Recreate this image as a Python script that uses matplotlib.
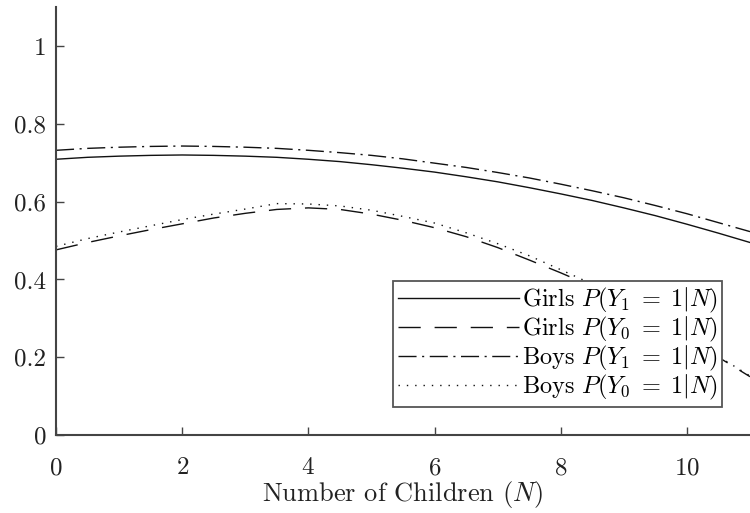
import matplotlib
matplotlib.use("Agg")
import matplotlib.pyplot as plt

plt.rcParams['font.family'] = 'serif'
plt.rcParams['font.serif'] = ['cmr10']
plt.rcParams['mathtext.fontset'] = 'cm'
plt.rcParams['axes.formatter.use_mathtext'] = True

# number of children
n_children = [0, 0.5, 1, 1.5, 2, 2.5, 3, 3.5, 4, 4.5, 5, 5.5,
              6, 6.5, 7, 7.5, 8, 8.5, 9, 9.5, 10, 10.5, 11]

girls_y1 = [0.709, 0.714, 0.717, 0.719, 0.720, 0.719, 0.717, 0.714, 0.709, 0.703, 0.695, 0.686,
            0.676, 0.664, 0.651, 0.636, 0.620, 0.603, 0.584, 0.564, 0.542, 0.519, 0.495]
girls_y0 = [0.476, 0.495, 0.512, 0.528, 0.543, 0.558, 0.570, 0.580, 0.584, 0.580, 0.568, 0.552,
            0.533, 0.510, 0.482, 0.450, 0.417, 0.382, 0.345, 0.302, 0.252, 0.200, 0.150]
boys_y1 = [0.732, 0.737, 0.740, 0.742, 0.743, 0.742, 0.740, 0.737, 0.732, 0.726, 0.719, 0.710,
           0.699, 0.688, 0.675, 0.661, 0.645, 0.628, 0.610, 0.590, 0.569, 0.546, 0.523]
boys_y0 = [0.485, 0.505, 0.522, 0.538, 0.554, 0.568, 0.581, 0.595, 0.594, 0.589, 0.578, 0.562,
           0.545, 0.520, 0.492, 0.461, 0.425, 0.388, 0.348, 0.304, 0.254, 0.202, 0.152]

x_ticks = [0, 2, 4, 6, 8, 10]
y_ticks = [0, 0.2, 0.4, 0.6, 0.8, 1]
y_tick_labels = ['0', '0.2', '0.4', '0.6', '0.8', '1']

fig = plt.figure(figsize=(7.5, 5.13), dpi=100)
ax = fig.add_axes([0.0747, 0.152, 0.9253, 0.834])

lw = 1.0
ax.plot(n_children, girls_y1, color='#111111', lw=lw, ls='-',
        label=r'Girls $P(Y_1\;=\;1|N)$')
ax.plot(n_children, girls_y0, color='#111111', lw=lw, ls=(0, (16, 10)),
        label=r'Girls $P(Y_0\;=\;1|N)$')
ax.plot(n_children, boys_y1, color='#111111', lw=lw, ls=(0, (13, 4, 1.5, 4)),
        label=r'Boys $P(Y_1\;=\;1|N)$')
ax.plot(n_children, boys_y0, color='#111111', lw=lw, ls=(0, (1, 5)),
        label=r'Boys $P(Y_0\;=\;1|N)$')

ax.set_xlim(0, 11)
ax.set_ylim(0, 1.1)
ax.set_xticks(x_ticks)
ax.set_yticks(y_ticks)
ax.set_yticklabels(y_tick_labels)
ax.tick_params(direction='in', length=6, width=1.0, color='#444444',
               labelsize=18, labelcolor='#222222')
ax.tick_params(axis='y', pad=7)
ax.tick_params(axis='x', pad=16)

for side in ['top', 'right']:
    ax.spines[side].set_visible(False)
for side in ['left', 'bottom']:
    ax.spines[side].set_color('#444444')
    ax.spines[side].set_linewidth(1.5)

ax.set_xlabel(r'Number of Children $(N)$', fontsize=19, color='#222222', labelpad=0)

leg = ax.legend(loc='lower right', bbox_to_anchor=(0.96, 0.065), borderaxespad=0,
                fontsize=17.5, handlelength=5.0, handletextpad=0.1, labelspacing=0.0,
                fancybox=False, framealpha=1, edgecolor='#555555', borderpad=0.2)
leg.get_frame().set_linewidth(1.3)

fig.savefig('out.png', dpi=100)
